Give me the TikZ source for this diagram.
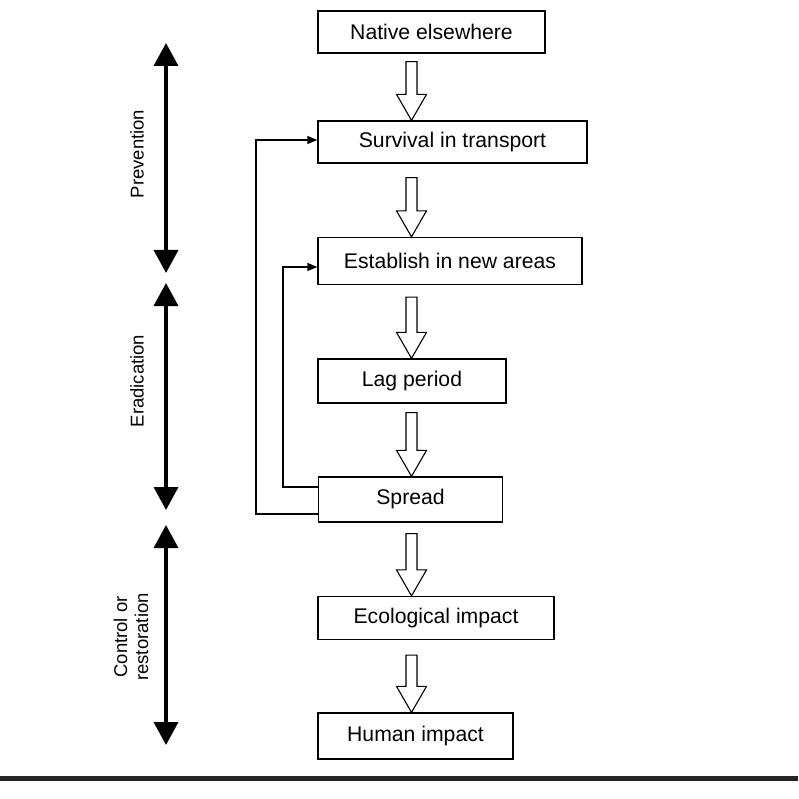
\documentclass[tikz,border=0pt]{standalone}
\usepackage{fontspec}
\setmainfont{Liberation Sans}
\usetikzlibrary{arrows.meta,calc}
\tikzset{
  box/.style={draw, line width=1.3pt, fill=white, inner sep=0pt, font=\fontsize{21.2}{24}\selectfont},
  hollow/.style={draw, line width=1.1pt, fill=white, line join=miter},
  fb/.style={draw, line width=1.3pt, -{Triangle[width=8pt,length=10pt]}},
  phase/.style={line width=3.5pt, {Triangle[width=24pt,length=23pt]}-{Triangle[width=24pt,length=23pt]}},
  lab/.style={rotate=90, align=center, font=\fontsize{18.5}{21}\selectfont}
}
\newcommand\hol[3]{%
  \path[hollow] let \p1=(#1.south), \p2=(#2.north) in
    (406pt,\y1-#3pt) -- (417pt,\y1-#3pt) -- (417pt,\y2+26pt) -- (426.5pt,\y2+26pt)
    -- (411.5pt,\y2) -- (396.5pt,\y2+26pt) -- (406pt,\y2+26pt) -- cycle;}
\begin{document}
\begin{tikzpicture}[x=1pt,y=-1pt]
\useasboundingbox (0,0) rectangle (798,799);
\node[box, minimum width=227pt, minimum height=42pt] (nat) at (431.5,32) {Native elsewhere};
\node[box, minimum width=269pt, minimum height=42pt] (sur) at (452.5,142) {Survival in transport};
\node[box, minimum width=264pt, minimum height=47pt] (est) at (450,261) {Establish in new areas};
\node[box, minimum width=188pt, minimum height=44pt] (lag) at (412,381) {Lag period};
\node[box, minimum width=184pt, minimum height=45pt] (spr) at (410.5,499.5) {Spread};
\node[box, minimum width=236pt, minimum height=43pt] (eco) at (436,618) {Ecological impact};
\node[box, minimum width=195pt, minimum height=46pt] (hum) at (415.5,736) {Human impact};

\hol{nat}{sur}{8}
\hol{sur}{est}{14}
\hol{est}{lag}{12}
\hol{lag}{spr}{9}
\hol{spr}{eco}{11}
\hol{eco}{hum}{15}

\draw[fb] ([yshift=-14.5pt]spr.west) -- ++(-62,0) |- ([yshift=2pt]sur.west);
\draw[fb] ([yshift=12.5pt]spr.west) -- ++(-35,0) |- ([yshift=-6pt]est.west);

\coordinate (p1) at (166,43);
\coordinate (p2) at (166,273);
\coordinate (e1) at (166,283);
\coordinate (e2) at (166,510);
\coordinate (c1) at (166,525);
\coordinate (c2) at (166,745);
\draw[phase] (p1) -- (p2);
\draw[phase] (e1) -- (e2);
\draw[phase] (c1) -- (c2);

\node[lab] (lp) at (137,154) {Prevention};
\node[lab] (le) at (137,381) {Eradication};
\node[lab] (lc) at (131,637) {Control or\\restoration};

\coordinate (b1) at (0,778);
\coordinate (b2) at (798,778);
\draw[line width=5pt, black!85] (b1) -- (b2);
\end{tikzpicture}
\end{document}
